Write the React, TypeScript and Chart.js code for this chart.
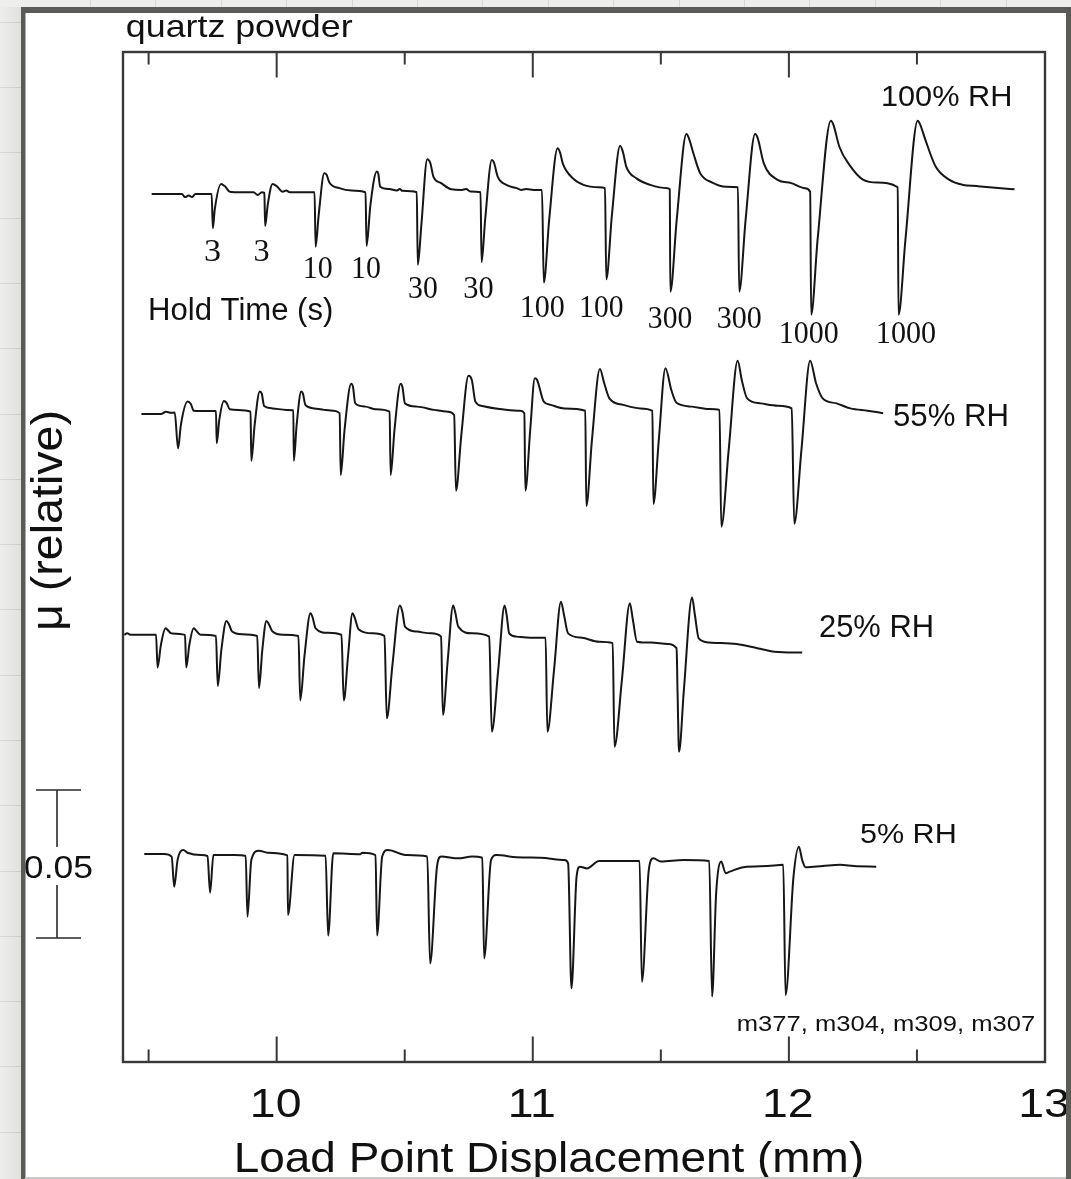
import React, { useEffect, useRef } from "react";
import { Chart, registerables } from "chart.js";

Chart.register(...registerables);

type Pt = [number, number];

// x: load point displacement (mm); y: friction coefficient μ (relative), in units of 0.001
const X_RANGE = [9.4, 13.0];
const Y_RANGE = [0, 341.2];
const MAJOR_TICKS = [10, 11, 12, 13];
const MINOR_TICKS = [9.5, 10.5, 11.5, 12.5];
const HOLD_TIMES = ["3", "3", "10", "10", "30", "30", "100", "100", "300", "300", "1000", "1000"];
const SERIES_LABELS = ["100% RH", "55% RH", "25% RH", "5% RH"];
const SCALE_BAR_VALUE = 50; // 0.05 μ
const SCALE_BAR_BASE = 41.9;
const RUN_IDS = "m377, m304, m309, m307";

const RH100: Pt[] = [
  [9.512, 293.2], [9.63, 293.2], [9.642, 292.2], [9.657, 292.7], [9.669, 292.2], [9.683, 293.2],
  [9.746, 293.2], [9.751, 281.7], [9.758, 287.8], [9.783, 296.6], [9.797, 295.9], [9.817, 294.0],
  [9.86, 293.8], [9.91, 293.8], [9.926, 292.9], [9.942, 293.8], [9.952, 293.6], [9.955, 282.4],
  [9.965, 289.5], [9.984, 296.6], [10.0, 295.9], [10.023, 294.0], [10.037, 294.4], [10.051, 293.8],
  [10.148, 293.8], [10.152, 275.4], [10.164, 286.1], [10.186, 300.2], [10.195, 299.7], [10.206, 297.1],
  [10.245, 295.2], [10.292, 294.4], [10.347, 293.8], [10.351, 275.7], [10.366, 289.5], [10.391, 300.8],
  [10.397, 300.0], [10.404, 295.7], [10.44, 294.9], [10.468, 294.4], [10.481, 294.9], [10.491, 294.3],
  [10.547, 293.8], [10.551, 269.3], [10.565, 282.8], [10.588, 305.0], [10.6, 303.7], [10.612, 299.1],
  [10.642, 296.9], [10.682, 294.8], [10.722, 294.6], [10.74, 294.9], [10.756, 294.1], [10.796, 293.8],
  [10.8, 270.2], [10.814, 284.5], [10.84, 304.7], [10.849, 303.7], [10.863, 299.1], [10.897, 296.3],
  [10.937, 295.2], [10.955, 294.6], [10.974, 294.9], [11.004, 294.6], [11.036, 294.6], [11.043, 263.3],
  [11.064, 284.5], [11.097, 308.7], [11.107, 307.1], [11.117, 303.6], [11.157, 298.5], [11.198, 296.3],
  [11.258, 295.5], [11.282, 295.2], [11.287, 264.4], [11.309, 286.1], [11.341, 309.5], [11.352, 307.4],
  [11.365, 302.5], [11.405, 298.5], [11.459, 296.3], [11.526, 295.2], [11.535, 294.8], [11.537, 260.2],
  [11.562, 284.5], [11.6, 313.5], [11.609, 312.2], [11.627, 307.0], [11.654, 300.2], [11.701, 297.1],
  [11.755, 295.7], [11.801, 295.5], [11.806, 260.2], [11.831, 284.5], [11.868, 313.5], [11.878, 312.2],
  [11.902, 303.6], [11.956, 298.0], [12.009, 296.9], [12.063, 295.2], [12.083, 294.0], [12.087, 252.4],
  [12.112, 277.7], [12.164, 318.0], [12.174, 316.6], [12.197, 309.2], [12.237, 303.0], [12.291, 298.0],
  [12.345, 297.1], [12.425, 295.5], [12.428, 252.4], [12.455, 277.7], [12.503, 318.0], [12.513, 316.6],
  [12.533, 311.5], [12.573, 302.5], [12.627, 298.0], [12.68, 296.3], [12.734, 295.9], [12.828, 295.2],
  [12.881, 294.8],
];

const RH55: Pt[] = [
  [9.472, 218.9], [9.548, 218.9], [9.568, 219.7], [9.587, 219.3], [9.602, 219.4], [9.615, 207.3],
  [9.626, 215.2], [9.652, 223.1], [9.665, 222.3], [9.676, 220.0], [9.704, 219.9], [9.763, 219.9],
  [9.766, 209.0], [9.776, 216.9], [9.794, 223.3], [9.805, 222.6], [9.817, 220.5], [9.85, 220.3],
  [9.898, 219.7], [9.901, 203.1], [9.914, 215.2], [9.934, 226.5], [9.942, 225.7], [9.951, 221.6],
  [9.984, 220.8], [10.038, 220.3], [10.065, 220.2], [10.067, 203.1], [10.078, 215.2], [10.096, 226.5],
  [10.103, 225.7], [10.112, 222.0], [10.146, 220.8], [10.186, 220.3], [10.21, 220.1], [10.246, 219.2],
  [10.25, 198.3], [10.265, 213.5], [10.291, 229.1], [10.298, 228.0], [10.307, 222.5], [10.347, 221.4],
  [10.387, 220.5], [10.441, 219.7], [10.445, 198.3], [10.46, 213.5], [10.484, 229.1], [10.491, 228.0],
  [10.501, 222.5], [10.548, 221.4], [10.615, 220.3], [10.669, 219.7], [10.693, 218.6], [10.7, 193.0],
  [10.721, 211.8], [10.749, 231.8], [10.762, 230.4], [10.776, 223.1], [10.803, 221.6], [10.87, 220.6],
  [10.951, 220.0], [10.967, 219.2], [10.971, 193.0], [10.99, 213.5], [11.008, 231.0], [11.017, 230.4],
  [11.043, 223.1], [11.07, 222.0], [11.124, 220.8], [11.205, 220.0], [11.209, 187.8], [11.231, 210.1],
  [11.262, 234.1], [11.279, 229.3], [11.299, 224.2], [11.353, 222.0], [11.42, 220.8], [11.467, 220.0],
  [11.471, 188.5], [11.492, 210.1], [11.518, 234.4], [11.541, 227.0], [11.561, 222.7], [11.622, 221.4],
  [11.689, 220.6], [11.729, 220.3], [11.736, 180.8], [11.765, 206.8], [11.8, 236.9], [11.816, 230.4],
  [11.837, 224.2], [11.89, 222.5], [11.958, 221.7], [12.011, 220.8], [12.021, 181.8], [12.049, 206.8],
  [12.083, 236.9], [12.106, 229.3], [12.132, 224.2], [12.186, 222.5], [12.24, 220.8], [12.307, 220.0],
  [12.368, 219.2],
];

const RH25: Pt[] = [
  [9.405, 144.3], [9.416, 144.8], [9.431, 144.3], [9.529, 144.3], [9.535, 133.3], [9.548, 140.9],
  [9.566, 146.5], [9.575, 145.9], [9.589, 144.8], [9.642, 144.3], [9.647, 133.3], [9.659, 140.9],
  [9.676, 146.5], [9.684, 145.9], [9.703, 144.3], [9.763, 143.9], [9.77, 127.0], [9.784, 139.2],
  [9.804, 149.0], [9.813, 148.0], [9.826, 145.4], [9.864, 144.5], [9.924, 143.9], [9.931, 126.3],
  [9.944, 139.2], [9.96, 149.0], [9.969, 148.0], [9.984, 145.4], [10.025, 144.3], [10.085, 143.9],
  [10.092, 122.1], [10.109, 137.5], [10.132, 151.6], [10.14, 150.3], [10.152, 146.5], [10.199, 145.0],
  [10.253, 144.3], [10.262, 122.1], [10.279, 137.5], [10.296, 151.6], [10.304, 150.3], [10.32, 146.2],
  [10.374, 144.8], [10.421, 143.9], [10.43, 116.1], [10.452, 134.1], [10.481, 154.2], [10.491, 152.0],
  [10.501, 147.1], [10.548, 145.4], [10.602, 144.8], [10.642, 143.7], [10.649, 117.2], [10.668, 135.8],
  [10.689, 154.2], [10.697, 152.0], [10.709, 147.1], [10.763, 144.8], [10.83, 143.7], [10.84, 111.6],
  [10.865, 132.4], [10.89, 154.2], [10.898, 151.0], [10.908, 144.8], [10.937, 143.7], [10.99, 143.3],
  [11.05, 143.3], [11.057, 111.6], [11.083, 132.4], [11.11, 155.5], [11.122, 151.0], [11.138, 144.8],
  [11.192, 143.3], [11.259, 142.0], [11.312, 141.5], [11.319, 106.5], [11.348, 129.1], [11.379, 155.0],
  [11.391, 149.3], [11.407, 142.0], [11.46, 141.7], [11.527, 141.2], [11.561, 139.8], [11.563, 135.8],
  [11.565, 125.7], [11.566, 122.3], [11.567, 117.2], [11.568, 113.9], [11.569, 108.8], [11.571, 104.8],
  [11.59, 125.7], [11.622, 156.9], [11.633, 151.0], [11.648, 143.1], [11.689, 141.7], [11.796, 141.2],
  [11.877, 139.8], [11.944, 138.6], [12.052, 138.3],
];

const RH5: Pt[] = [
  [9.483, 70.3], [9.561, 70.3], [9.59, 69.4], [9.6, 59.2], [9.613, 68.2], [9.636, 71.6],
  [9.652, 70.7], [9.704, 69.9], [9.73, 69.6], [9.74, 57.2], [9.753, 69.9], [9.834, 69.9],
  [9.879, 69.6], [9.886, 49.1], [9.901, 68.2], [9.931, 71.4], [9.964, 70.7], [10.042, 69.8],
  [10.044, 49.7], [10.07, 69.9], [10.191, 69.7], [10.201, 42.7], [10.221, 70.5], [10.327, 70.2],
  [10.334, 70.7], [10.386, 69.9], [10.392, 42.7], [10.412, 69.4], [10.434, 71.6], [10.508, 69.9],
  [10.588, 69.4], [10.599, 33.3], [10.626, 66.0], [10.642, 69.4], [10.709, 68.8], [10.763, 69.4],
  [10.803, 69.0], [10.81, 35.0], [10.837, 68.2], [10.857, 69.9], [10.937, 69.2], [11.029, 69.0],
  [11.124, 68.2], [11.138, 67.1], [11.151, 24.9], [11.171, 62.6], [11.184, 66.0], [11.211, 65.4],
  [11.259, 67.9], [11.417, 67.9], [11.426, 27.1], [11.453, 64.9], [11.471, 68.8], [11.5, 67.7],
  [11.588, 68.2], [11.689, 67.9], [11.7, 22.1], [11.716, 57.0], [11.736, 67.7], [11.753, 63.8],
  [11.769, 64.3], [11.823, 65.8], [11.917, 66.2], [11.978, 66.6], [11.987, 22.6], [12.018, 62.6],
  [12.039, 72.7], [12.052, 68.2], [12.065, 65.8], [12.132, 66.2], [12.2, 66.6], [12.254, 66.2],
  [12.341, 66.0],
];

// ---------- layout (pixels) ----------
const W = 1071;
const H = 1179;
const SANS = '"Liberation Sans", Arial, Helvetica, sans-serif';
const SERIF = '"Liberation Serif", "Times New Roman", serif';
const INK = "#111111";

type TextOpt = { x: number; y: number; size: number; w?: number; sx?: number; family?: string; center?: boolean };

function drawInk(ctx: CanvasRenderingContext2D, text: string, o: TextOpt) {
  ctx.font = `${o.size}px ${o.family ?? SANS}`;
  ctx.textAlign = "left";
  ctx.textBaseline = "alphabetic";
  const m = ctx.measureText(text);
  const l = m.actualBoundingBoxLeft;
  const ink = l + m.actualBoundingBoxRight;
  const sx = o.w ? o.w / ink : o.sx ?? 1;
  const left = o.center ? o.x - (ink * sx) / 2 : o.x;
  ctx.save();
  ctx.translate(left + l * sx, o.y);
  ctx.scale(sx, 1);
  ctx.fillText(text, 0, 0);
  ctx.restore();
}

const HOLD_LAYOUT: [number, number, number][] = [
  [205, 15.4, 261], [254.5, 14.5, 261], [304.8, 27.5, 278.3], [353, 27.5, 278.3],
  [409, 28.3, 297.7], [464.2, 28.9, 297.7], [521.7, 42.7, 316.7], [581, 42, 316.7],
  [648.8, 43, 328.3], [717.7, 43.7, 328.3], [780.7, 57.5, 343.3], [877.8, 57.8, 343.3],
];

const LABEL_LAYOUT: TextOpt[] = [
  { x: 883, y: 106, size: 29.5, w: 127 },
  { x: 894, y: 426, size: 30.5, w: 113 },
  { x: 820, y: 637, size: 30.5, w: 112 },
  { x: 861, y: 843, size: 28.5, w: 94 },
];

const figurePlugin = {
  id: "figure",
  beforeDraw(chart: any) {
    const ctx: CanvasRenderingContext2D = chart.ctx;
    ctx.save();
    ctx.fillStyle = "#eeeeec";
    ctx.fillRect(0, 0, W, H);
    ctx.strokeStyle = "#d8d8d5";
    ctx.lineWidth = 1;
    for (let x = 90; x < W; x += 65.4) {
      ctx.beginPath();
      ctx.moveTo(Math.round(x) + 0.5, 0);
      ctx.lineTo(Math.round(x) + 0.5, 7);
      ctx.stroke();
    }
    for (let y = 21.7; y < H; y += 65.3) {
      ctx.beginPath();
      ctx.moveTo(0, Math.round(y) + 0.5);
      ctx.lineTo(21, Math.round(y) + 0.5);
      ctx.stroke();
    }
    const g = ctx.createLinearGradient(0, 0, 21, 0);
    g.addColorStop(0, "rgba(0,0,0,0)");
    g.addColorStop(1, "rgba(0,0,0,0.06)");
    ctx.fillStyle = g;
    ctx.fillRect(0, 7, 21, H);
    ctx.fillStyle = "#ffffff";
    ctx.fillRect(25, 13, 1041, H - 13);
    ctx.restore();
  },
  afterDatasetsDraw(chart: any) {
    const ctx: CanvasRenderingContext2D = chart.ctx;
    const a = chart.chartArea;
    const xs = chart.scales.x;
    const ys = chart.scales.y;
    ctx.save();
    ctx.strokeStyle = "#383838";
    ctx.lineWidth = 2.4;
    ctx.strokeRect(a.left, a.top, a.right - a.left, a.bottom - a.top);
    ctx.lineWidth = 2;
    const tick = (v: number, len: number) => {
      const px = xs.getPixelForValue(v);
      if (px >= a.right - 1) return;
      ctx.beginPath();
      ctx.moveTo(px, a.bottom);
      ctx.lineTo(px, a.bottom - len);
      ctx.moveTo(px, a.top);
      ctx.lineTo(px, a.top + len);
      ctx.stroke();
    };
    MAJOR_TICKS.forEach((v) => tick(v, 25.5));
    MINOR_TICKS.forEach((v) => tick(v, 12.5));

    // scale bar (0.05 in μ)
    const y0 = ys.getPixelForValue(SCALE_BAR_BASE);
    const y1 = ys.getPixelForValue(SCALE_BAR_BASE + SCALE_BAR_VALUE);
    const bx = 57;
    ctx.strokeStyle = "#2a2a2a";
    ctx.lineWidth = 1.6;
    ctx.beginPath();
    ctx.moveTo(36, y1);
    ctx.lineTo(81, y1);
    ctx.moveTo(36, y0);
    ctx.lineTo(81, y0);
    ctx.moveTo(bx, y1);
    ctx.lineTo(bx, 847);
    ctx.moveTo(bx, 885);
    ctx.lineTo(bx, y0);
    ctx.stroke();
    ctx.restore();
  },
  afterDraw(chart: any) {
    const ctx: CanvasRenderingContext2D = chart.ctx;
    const xs = chart.scales.x;
    ctx.save();
    ctx.fillStyle = INK;

    drawInk(ctx, "quartz powder", { x: 127, y: 36.5, size: 31.5, w: 225 });
    drawInk(ctx, "Hold Time (s)", { x: 150, y: 320, size: 31, w: 182 });
    HOLD_TIMES.forEach((t, i) => {
      const [x, w, y] = HOLD_LAYOUT[i];
      drawInk(ctx, t, { x, y, size: 31, w, family: SERIF });
    });
    SERIES_LABELS.forEach((t, i) => drawInk(ctx, t, LABEL_LAYOUT[i]));
    drawInk(ctx, RUN_IDS, { x: 738, y: 1030.5, size: 21.5, w: 296 });
    drawInk(ctx, (SCALE_BAR_VALUE / 1000).toFixed(2), { x: 25, y: 878, size: 30.5, w: 67 });

    MAJOR_TICKS.forEach((v) => {
      drawInk(ctx, String(v), { x: xs.getPixelForValue(v), y: 1116.5, size: 40, sx: 1.16, center: true });
    });
    drawInk(ctx, "Load Point Displacement (mm)", { x: 237, y: 1172, size: 42, w: 625 });

    ctx.save();
    ctx.translate(62, 520);
    ctx.rotate(-Math.PI / 2);
    drawInk(ctx, "μ (relative)", { x: 0, y: 0, size: 45, w: 216, center: true });
    ctx.restore();

    // photo frame
    ctx.fillStyle = "#5c5a56";
    ctx.fillRect(21, 7, 4.5, H - 7);
    ctx.fillRect(21, 7, W - 21, 6);
    ctx.fillRect(1066, 7, W - 1066, H - 7);
    ctx.fillStyle = "#c8c8c6";
    ctx.fillRect(25, 1177, 1041, 2);
    ctx.restore();
  },
};

export default function App() {
  const ref = useRef<HTMLCanvasElement | null>(null);
  useEffect(() => {
    if (!ref.current) return;
    const mk = (pts: Pt[], label: string) => ({
      label,
      data: pts.map(([x, y]) => ({ x, y })),
      borderColor: "#161616",
      borderWidth: 2,
      pointRadius: 0,
      cubicInterpolationMode: "monotone",
      fill: false,
    });
    const chart = new Chart(ref.current, {
      type: "line",
      data: {
        datasets: [
          mk(RH100, SERIES_LABELS[0]),
          mk(RH55, SERIES_LABELS[1]),
          mk(RH25, SERIES_LABELS[2]),
          mk(RH5, SERIES_LABELS[3]),
        ],
      },
      options: {
        animation: false,
        responsive: false,
        devicePixelRatio: 1,
        events: [],
        layout: { padding: { left: 123, right: W - 1045, top: 52, bottom: H - 1062 } },
        scales: {
          x: { type: "linear", min: X_RANGE[0], max: X_RANGE[1], display: false },
          y: { type: "linear", min: Y_RANGE[0], max: Y_RANGE[1], display: false },
        },
        plugins: { legend: { display: false }, tooltip: { enabled: false } },
      },
      plugins: [figurePlugin],
    } as any);
    return () => chart.destroy();
  }, []);
  return (
    <div style={{ position: "absolute", left: 0, top: 0, width: W, height: H }}>
      <canvas ref={ref} width={W} height={H} style={{ display: "block", width: W, height: H }} />
    </div>
  );
}
